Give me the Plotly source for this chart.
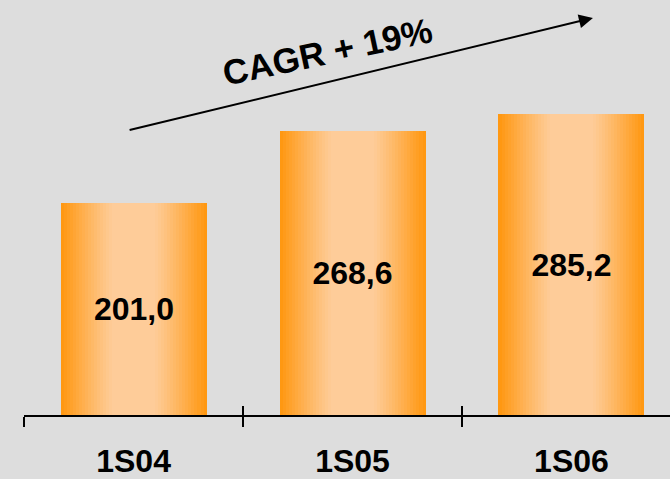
import plotly.graph_objects as go

categories = ["1S04", "1S05", "1S06"]
values = [201.0, 268.6, 285.2]
value_labels = ["201,0", "268,6", "285,2"]
cagr_text = "CAGR + 19%"

FONT = "Liberation Sans, Arial, sans-serif"
BG = "#dddddd"
EDGE = (255, 152, 18)
LIGHT = (254, 204, 153)

BAR_W = 0.667
N_LAYERS = 24

def mix(t):
    # t = 0 at bar centre, 1 at bar edge
    if t <= 0.3:
        s = 0.0
    else:
        s = min(1.0, (t - 0.3) / 0.7)
        s = s ** 1.1
    c = [round(LIGHT[k] + (EDGE[k] - LIGHT[k]) * s) for k in range(3)]
    return "rgb(%d,%d,%d)" % tuple(c)

fig = go.Figure()
for i in range(N_LAYERS):
    frac = 1.0 - i / N_LAYERS
    last = i == N_LAYERS - 1
    fig.add_trace(go.Bar(
        x=categories, y=values,
        width=BAR_W * frac,
        marker=dict(color=mix(frac), line=dict(width=0)),
        hoverinfo="skip",
        showlegend=False,
        text=value_labels if last else None,
        textposition="inside" if last else "none",
        insidetextanchor="middle",
        textangle=0,
        constraintext="none",
        cliponaxis=False,
        textfont=dict(family=FONT, size=32, color="black", weight="bold"),
    ))

n = len(categories)
xr = [-0.5005, n - 0.55]
ymax = 393.0

# invisible trace to drive overlay tick axis
fig.add_trace(go.Scatter(x=[xr[0]], y=[0], xaxis="x2", mode="markers",
                         marker=dict(opacity=0), hoverinfo="skip", showlegend=False))

fig.add_annotation(
    x=2.098, y=376.0, ax=-0.025, ay=269.5,
    xref="x", yref="y", axref="x", ayref="y",
    showarrow=True, arrowhead=2, arrowsize=1.4, arrowwidth=2, arrowcolor="black",
    text="",
)
fig.add_annotation(
    x=0.884, y=344.0, xref="x", yref="y",
    text="<b>%s</b>" % cagr_text, showarrow=False, textangle=-12,
    font=dict(family=FONT, size=35, color="black"),
)

fig.update_layout(
    width=670, height=479,
    margin=dict(l=24, r=0, t=0, b=59),
    paper_bgcolor=BG, plot_bgcolor=BG,
    barmode="overlay",
    bargap=0,
    xaxis=dict(
        type="category", range=xr, tickson="boundaries",
        ticks="outside", ticklen=10, tickwidth=1.5, tickcolor="black",
        showline=True, linecolor="black", linewidth=1.5,
        showgrid=False, zeroline=False,
        tickfont=dict(family=FONT, size=32, color="black", weight="bold"),
        ticklabelstandoff=17,
    ),
    xaxis2=dict(
        overlaying="x", anchor="y", side="bottom", range=xr,
        tickmode="array", tickvals=[k - 0.5 for k in range(n + 1)],
        ticks="inside", ticklen=9, tickwidth=1.5, tickcolor="black",
        showticklabels=False, showline=False, showgrid=False, zeroline=False,
    ),
    yaxis=dict(range=[0, ymax], visible=False, showgrid=False, zeroline=False),
    showlegend=False,
)

fig.write_html("out.html", config={"displayModeBar": False},
               post_script="document.body.style.margin='0';")
